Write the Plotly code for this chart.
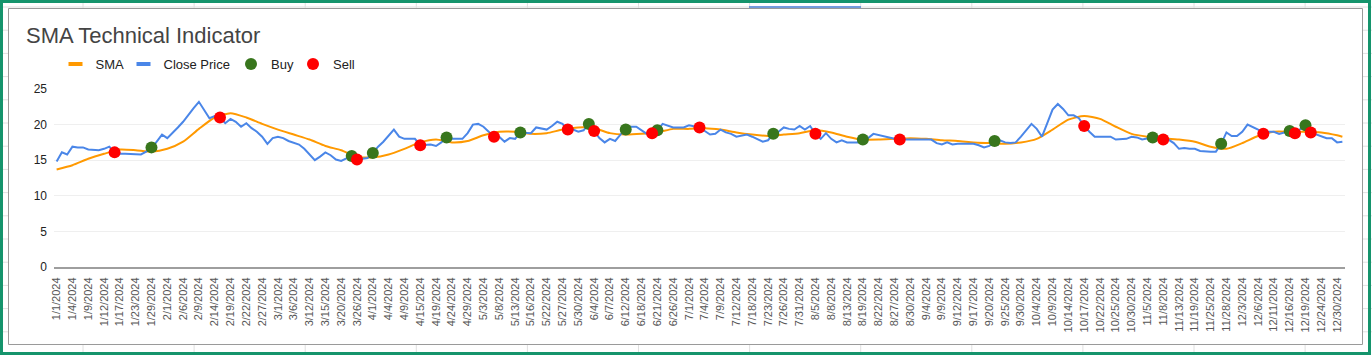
import datetime as dt
import plotly.graph_objects as go

# ---------------- data ----------------
tick_labels = [
    "1/1/2024", "1/4/2024", "1/9/2024", "1/12/2024", "1/17/2024", "1/23/2024", "1/29/2024",
    "2/1/2024", "2/6/2024", "2/9/2024", "2/14/2024", "2/19/2024", "2/22/2024", "2/27/2024",
    "3/1/2024", "3/6/2024", "3/12/2024", "3/15/2024", "3/20/2024", "3/26/2024",
    "4/1/2024", "4/4/2024", "4/9/2024", "4/15/2024", "4/19/2024", "4/24/2024", "4/29/2024",
    "5/3/2024", "5/8/2024", "5/13/2024", "5/16/2024", "5/22/2024", "5/27/2024", "5/30/2024",
    "6/4/2024", "6/7/2024", "6/12/2024", "6/18/2024", "6/21/2024", "6/26/2024",
    "7/1/2024", "7/4/2024", "7/9/2024", "7/12/2024", "7/18/2024", "7/23/2024", "7/26/2024", "7/31/2024",
    "8/5/2024", "8/8/2024", "8/13/2024", "8/19/2024", "8/22/2024", "8/27/2024", "8/30/2024",
    "9/4/2024", "9/9/2024", "9/12/2024", "9/17/2024", "9/20/2024", "9/25/2024", "9/30/2024",
    "10/4/2024", "10/9/2024", "10/14/2024", "10/17/2024", "10/22/2024", "10/25/2024", "10/30/2024",
    "11/5/2024", "11/8/2024", "11/13/2024", "11/19/2024", "11/25/2024", "11/28/2024",
    "12/3/2024", "12/6/2024", "12/11/2024", "12/16/2024", "12/19/2024", "12/24/2024", "12/30/2024",
]
last_day = "12/31/2024"

close_price = [
    14.8, 16.1, 15.8, 16.9, 16.8, 16.8, 16.5, 16.4, 16.4, 16.6,
    16.9, 16.1, 15.9, 15.9, 15.9, 15.9, 15.8, 16.2, 16.8, 17.6,
    18.6, 18.1, 18.8, 19.6, 20.4, 21.4, 22.3, 23.2, 22.1, 20.9,
    21.2, 21.0, 20.2, 20.8, 20.4, 19.7, 20.2, 19.5, 19.0, 18.3,
    17.3, 18.1, 18.3, 18.1, 17.7, 17.5, 17.2, 16.6, 15.8, 15.0,
    15.5, 16.1, 15.7, 15.1, 14.9, 15.3, 15.6, 15.1, 15.2, 15.3,
    16.0, 16.9, 17.6, 18.4, 19.3, 18.3, 18.0, 18.0, 18.0, 17.1,
    17.2, 17.2, 17.0, 17.5, 18.2, 18.0, 18.0, 18.0, 18.8, 20.0,
    20.1, 19.7, 19.0, 18.3, 18.3, 17.6, 18.1, 18.0, 18.9, 18.8,
    18.8, 19.6, 19.4, 19.3, 19.8, 20.4, 20.1, 19.3, 19.3, 19.0,
    19.2, 20.1, 19.1, 18.1, 17.5, 18.0, 17.7, 18.6, 19.3, 19.7,
    19.7, 19.2, 18.7, 18.8, 19.2, 20.1, 19.8, 19.6, 19.6, 19.6,
    19.9, 19.8, 19.6, 19.1, 18.6, 18.7, 19.3, 18.9, 18.7, 18.3,
    18.4, 18.6, 18.3, 17.9, 17.6, 17.8, 18.7, 19.0, 19.6, 19.4,
    19.3, 19.8, 19.3, 19.8, 18.7, 18.0, 18.8, 18.0, 17.5, 17.8,
    17.5, 17.5, 17.5, 17.9, 18.1, 18.7, 18.5, 18.4, 18.1, 18.0,
    17.9, 17.9, 17.9, 17.9, 18.0, 18.0, 17.9, 17.4, 17.2, 17.5,
    17.2, 17.3, 17.3, 17.3, 17.3, 17.1, 16.8, 17.0, 17.7, 17.8,
    17.5, 17.4, 17.5, 18.3, 19.2, 20.1, 19.4, 18.3, 20.2, 22.1,
    22.9, 22.2, 21.3, 21.3, 20.9, 19.8, 19.0, 18.3, 18.3, 18.3,
    18.3, 17.9, 17.9, 18.0, 18.3, 18.2, 17.9, 18.0, 18.2, 18.1,
    17.9, 17.9, 17.4, 16.6, 16.7, 16.6, 16.6, 16.3, 16.2, 16.2,
    16.2, 17.3, 18.9, 18.4, 18.4, 19.0, 20.0, 19.6, 19.3, 18.7,
    19.0, 19.0, 18.7, 18.9, 19.1, 18.8, 19.3, 19.9, 18.9, 18.6,
    18.3, 18.1, 18.1, 17.5, 17.6,
]

# SMA read at every labelled date (plus the last trading day)
sma_values = [
    13.7, 14.3, 15.2, 15.9, 16.5, 16.4, 16.2, 16.6, 17.6, 19.4,
    21.0, 21.6, 21.0, 20.1, 19.3, 18.6, 17.9, 17.0, 16.4, 15.5,
    15.4, 15.8, 16.6, 17.5, 17.9, 17.5, 17.7, 18.5, 19.0, 19.0,
    18.7, 18.8, 19.3, 19.6, 19.5, 18.8, 18.6, 18.7, 18.9, 19.4,
    19.4, 19.5, 19.3, 18.9, 18.6, 18.4, 18.6, 18.8, 19.2, 18.9,
    18.3, 17.9, 17.9, 18.0, 18.1, 18.0, 17.8, 17.7, 17.5, 17.4,
    17.3, 17.5, 18.0, 19.3, 20.7, 21.2, 20.8, 19.7, 18.7, 18.3,
    18.1, 17.9, 17.6, 16.9, 16.6, 17.4, 18.4, 19.0, 19.0, 19.0,
    18.9, 18.5, 18.3,
]

# trading-day number of each signal and its price
buy_day = [18, 56, 60, 74, 88, 101, 108, 114, 136, 153, 178, 208, 221, 234, 237]
buy_price = [16.8, 15.6, 16.0, 18.2, 18.9, 20.1, 19.3, 19.2, 18.7, 17.9, 17.7, 18.2, 17.3, 19.1, 19.9]
sell_day = [11, 31, 57, 69, 83, 97, 102, 113, 122, 144, 160, 195, 210, 229, 235, 238]
sell_price = [16.1, 21.0, 15.1, 17.1, 18.3, 19.3, 19.1, 18.8, 19.6, 18.7, 17.9, 19.8, 17.9, 18.7, 18.8, 18.9]

# ---------------- category list (trading days) ----------------
def parse(s):
    m, d, y = map(int, s.split("/"))
    return dt.date(y, m, d)

def fmt(d):
    return f"{d.month}/{d.day}/{d.year}"

dates = []
for a, b in zip(tick_labels[:-1], tick_labels[1:]):
    da, db = parse(a), parse(b)
    between = [da + dt.timedelta(k) for k in range(1, (db - da).days)
               if (da + dt.timedelta(k)).weekday() < 5]
    pick = [between[0], between[-1]] if len(between) >= 2 else between
    dates += [a] + [fmt(x) for x in pick]
dates += [tick_labels[-1], last_day]
sma_dates = tick_labels + [last_day]

# ---------------- figure ----------------
W, H = 1372, 355
L, R, T, B = 54, 1345, 89, 267
PW, PH = R - L, B - T

def px(X):
    return (X - L) / PW

def py(Y):
    return (B - Y) / PH

FONT = "Liberation Sans, Arial, sans-serif"
ORANGE, BLUE, GREEN, RED = "#ff9900", "#4a86e8", "#38761d", "#ff0000"
LEGEND_FONT = dict(family=FONT, size=13, color="#222222")

fig = go.Figure()

# legend-only swatches for the two lines
fig.add_trace(go.Scatter(x=[None], y=[None], mode="markers", name="SMA", legend="legend",
                         marker=dict(symbol="line-ew", size=10, color=ORANGE,
                                     line=dict(color=ORANGE, width=4))))
fig.add_trace(go.Scatter(x=[None], y=[None], mode="markers", name="Close Price", legend="legend2",
                         marker=dict(symbol="line-ew", size=10, color=BLUE,
                                     line=dict(color=BLUE, width=4))))

fig.add_trace(go.Scatter(x=sma_dates, y=sma_values, mode="lines", name="SMA",
                         showlegend=False, line=dict(color=ORANGE, width=2, shape="spline", smoothing=0.6)))
fig.add_trace(go.Scatter(x=dates, y=close_price, mode="lines", name="Close Price",
                         showlegend=False, line=dict(color=BLUE, width=2)))
fig.add_trace(go.Scatter(x=[dates[i] for i in buy_day], y=buy_price, mode="markers", name="Buy",
                         legend="legend3", marker=dict(color=GREEN, size=12)))
fig.add_trace(go.Scatter(x=[dates[i] for i in sell_day], y=sell_price, mode="markers", name="Sell",
                         legend="legend4", marker=dict(color=RED, size=12)))

shapes = []
# spreadsheet grid behind the chart
for k in range(12):
    X = 83 + k * 111.1
    shapes.append(dict(type="line", xref="paper", yref="paper", x0=px(X), x1=px(X),
                       y0=py(0), y1=py(H), line=dict(color="#e0e0e0", width=1), layer="below"))
for k in range(15):
    Y = 7 + k * 23.2
    shapes.append(dict(type="line", xref="paper", yref="paper", x0=px(0), x1=px(W),
                       y0=py(Y), y1=py(Y), line=dict(color="#e0e0e0", width=1), layer="below"))
# selected-column marker
shapes.append(dict(type="line", xref="paper", yref="paper", x0=px(749), x1=px(861),
                   y0=py(7), y1=py(7), line=dict(color="#4a7fd4", width=1.5), layer="below"))
# chart card
shapes.append(dict(type="rect", xref="paper", yref="paper", x0=px(8.5), x1=px(1362.5),
                   y0=py(8.5), y1=py(344.5), fillcolor="white",
                   line=dict(color="#9a9a9a", width=1), layer="below"))
# green selection frame
shapes.append(dict(type="rect", xref="paper", yref="paper", x0=px(1.5), x1=px(1369.5),
                   y0=py(1.5), y1=py(353.5), fillcolor="rgba(0,0,0,0)",
                   line=dict(color="#15946c", width=3), layer="above"))

def legend_at(center_x):
    return dict(orientation="h", xref="container", yref="container",
                x=(center_x - 20) / W, xanchor="left", y=1 - 64 / H, yanchor="middle",
                font=LEGEND_FONT, bgcolor="rgba(0,0,0,0)", itemsizing="trace")

fig.update_layout(
    width=W, height=H,
    margin=dict(l=L, r=W - R, t=T, b=H - B, pad=0, autoexpand=False),
    paper_bgcolor="white", plot_bgcolor="white",
    font=dict(family=FONT, color="#222222"),
    title=dict(text="SMA Technical Indicator", font=dict(family=FONT, size=22, color="#444444"),
               xref="container", x=26 / W, xanchor="left",
               yref="container", y=1 - 35 / H, yanchor="middle", automargin=False),
    legend=legend_at(75.5),
    legend2=legend_at(143.5),
    legend3=legend_at(251),
    legend4=legend_at(313),
    showlegend=True,
    shapes=shapes,
    hovermode="closest",
)

fig.update_xaxes(type="category", categoryorder="array", categoryarray=dates,
                 range=[-0.5, len(dates) - 0.5], automargin=False,
                 tickmode="array", tickvals=tick_labels, ticktext=tick_labels,
                 tickangle=-90, tickfont=dict(family=FONT, size=11, color="#555555"),
                 showgrid=False, zeroline=False, showline=True, linecolor="#9e9e9e", linewidth=2,
                 ticks="", ticklabelstandoff=4)
fig.update_yaxes(range=[0, 25], tickmode="linear", tick0=0, dtick=5, automargin=False,
                 tickfont=dict(family=FONT, size=12, color="#222222"),
                 showgrid=True, gridcolor="#efefef", gridwidth=1,
                 zeroline=False, showline=False, ticks="", ticklabelstandoff=6)

fig.write_html("out.html", config={"displayModeBar": False},
               post_script="document.body.style.margin='0px';")
